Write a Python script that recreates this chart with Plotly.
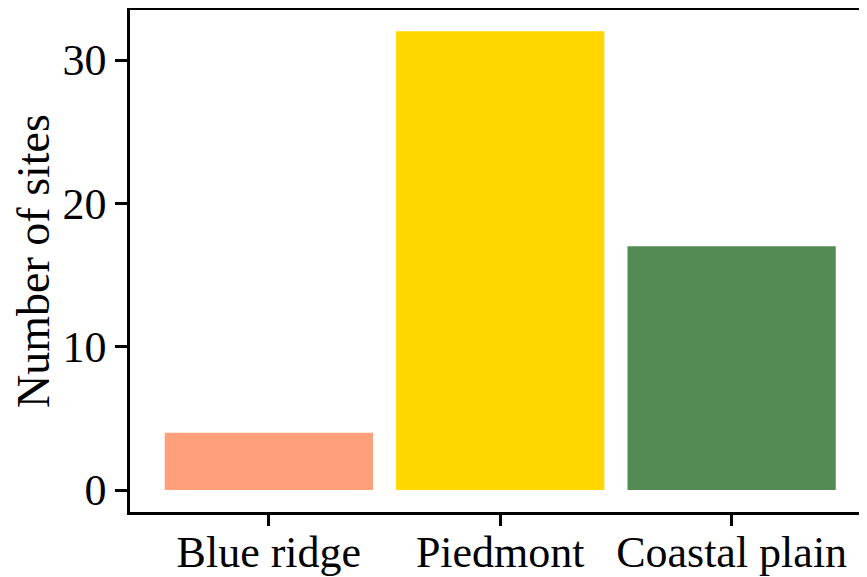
import plotly.graph_objects as go

regions = ["Blue ridge", "Piedmont", "Coastal plain"]
sites = [4, 32, 17]
colors = ["#FFA07A", "#FFD700", "#548B54"]
y_ticks = [0, 10, 20, 30]

font = "Liberation Serif, Times New Roman, serif"

fig = go.Figure(go.Bar(x=regions, y=sites, marker=dict(color=colors, line=dict(width=0)),
                       width=0.9))

# page body has an 8px default margin; size the figure so it fills the window exactly
fig.update_layout(
    width=859, height=569,
    margin=dict(l=122, r=0, t=2, b=65, autoexpand=False),
    plot_bgcolor="white", paper_bgcolor="white",
    showlegend=False,
    font=dict(family=font, color="black", size=44),
)
fig.update_xaxes(
    range=[-0.6, 2.585], showline=True, linecolor="black", linewidth=2.5, mirror=True,
    ticks="outside", ticklen=11, tickwidth=3, tickcolor="black", automargin=False,
    ticklabelstandoff=-12,
    tickfont=dict(family=font, size=44, color="black"), showgrid=False, zeroline=False,
)
fig.update_yaxes(
    range=[-1.535, 33.49], showline=True, linecolor="black", linewidth=2.5,
    ticks="outside", ticklen=12, tickwidth=3, tickcolor="black", automargin=False,
    tickvals=y_ticks, ticktext=[str(v) for v in y_ticks],
    tickfont=dict(family=font, size=44, color="black"), showgrid=False, zeroline=False,
    title=dict(text="Number of sites", font=dict(family=font, size=46, color="black"), standoff=6),
)

fig.write_html("out.html")
